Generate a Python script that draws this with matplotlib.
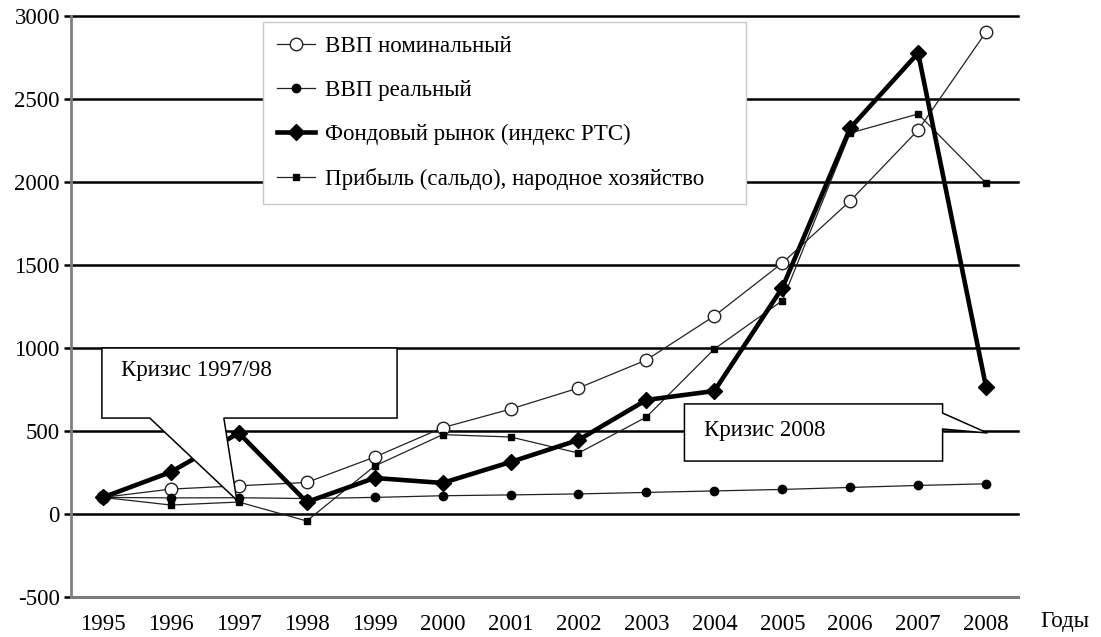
import matplotlib

matplotlib.use("Agg")

import matplotlib.pyplot as plt
from matplotlib.patches import Polygon

plt.rcParams["font.family"] = ["Liberation Serif", "DejaVu Serif"]

# data (1995 = 100)
years = list(range(1995, 2009))
gdp_nominal = [100, 150, 170, 190, 343, 520, 632, 759, 928, 1193, 1512, 1886, 2313, 2904]
gdp_real = [100, 97, 98, 93, 100, 110, 115, 121, 130, 139, 148, 160, 172, 182]
stock_rts = [100, 253, 488, 72, 217, 187, 313, 446, 687, 741, 1362, 2325, 2777, 765]
profit = [100, 54, 72, -42, 289, 478, 464, 367, 584, 994, 1285, 2295, 2410, 1994]

labels = [
    "ВВП номинальный",
    "ВВП реальный",
    "Фондовый рынок (индекс РТС)",
    "Прибыль (сальдо), народное хозяйство",
]
y_ticks = [-500, 0, 500, 1000, 1500, 2000, 2500, 3000]

FS = 16.5

fig = plt.figure(figsize=(11.01, 6.37), dpi=100)
ax = fig.add_axes([71 / 1101, 1 - 597 / 637, (1018 - 71) / 1101, (597 - 16) / 637])

ax.plot(years, gdp_nominal, color="#222222", lw=0.9, marker="o", ms=9,
        mfc="white", mec="#222222", mew=1.0, zorder=3, label=labels[0])
ax.plot(years, gdp_real, color="#222222", lw=0.9, marker="o", ms=6,
        mfc="black", mec="black", zorder=3, label=labels[1])
ax.plot(years, stock_rts, color="black", lw=3.3, marker="D", ms=8,
        mfc="black", mec="black", zorder=4, label=labels[2])
ax.plot(years, profit, color="#222222", lw=0.9, marker="s", ms=4.5,
        mfc="black", mec="black", zorder=3, label=labels[3])

ax.set_xlim(1994.53, 2008.47)
ax.set_ylim(-500, 3000)
ax.set_xticks(years)
ax.set_xticklabels([str(y) for y in years])
ax.set_yticks(y_ticks)
ax.set_yticklabels([str(v) for v in y_ticks])

ax.tick_params(axis="x", which="major", length=0, pad=12, labelsize=FS)
ax.tick_params(axis="y", length=5, width=1.8, pad=3, labelsize=FS, color="black")

ax.set_axisbelow(True)
ax.yaxis.grid(True, color="black", lw=1.8)
for gl in ax.yaxis.get_gridlines():
    gl.set_clip_on(False)

for side in ("top", "right"):
    ax.spines[side].set_visible(False)
for side in ("left", "bottom"):
    ax.spines[side].set_color("#808080")
    ax.spines[side].set_linewidth(2)

# callouts
crisis1 = [(1994.985, 1000), (1999.33, 1000), (1999.33, 578), (1996.78, 578),
           (1996.97, 84), (1995.69, 578), (1994.985, 578)]
crisis2 = [(2003.56, 663), (2007.36, 663), (2007.36, 608), (2008.02, 488),
           (2007.36, 512), (2007.36, 319), (2003.56, 319)]
for pts in (crisis1, crisis2):
    ax.add_patch(Polygon(pts, closed=True, fc="white", ec="black", lw=1.1,
                         zorder=6, clip_on=False))
ax.text(1995.27, 867, "Кризис 1997/98", fontsize=FS, va="center", zorder=7)
ax.text(2003.85, 506, "Кризис 2008", fontsize=FS, va="center", zorder=7)

leg = ax.legend(loc="upper left",
                bbox_to_anchor=(263 / 1101, 1 - 200 / 637, (746 - 263) / 1101, (200 - 22) / 637),
                bbox_transform=fig.transFigure, mode="expand", borderaxespad=0,
                fontsize=FS, frameon=True, fancybox=False, framealpha=1,
                edgecolor="#c8c8c8", handlelength=1.65, handletextpad=0.45,
                labelspacing=1.0, borderpad=0.6)
leg.get_frame().set_linewidth(1.0)
leg.set_zorder(8)

fig.text(1040 / 1101, 1 - 622 / 637, "Годы", fontsize=FS, va="center")

fig.savefig("out.png", dpi=100)
